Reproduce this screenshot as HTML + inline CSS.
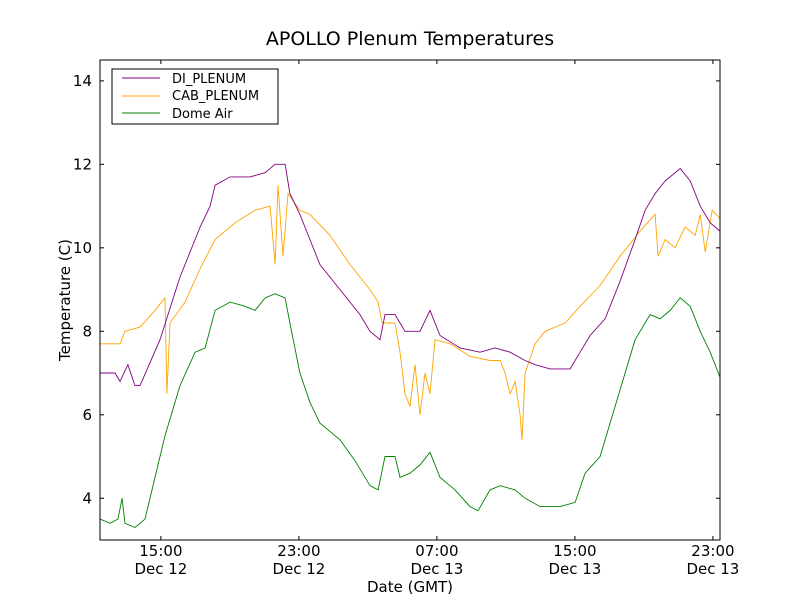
<!DOCTYPE html>
<html><head><meta charset="utf-8"><style>
body{margin:0;background:#fff;}
svg text{font-family:"DejaVu Sans","Liberation Sans",sans-serif;fill:#000;}
</style></head><body>
<svg id="chart" width="800" height="600">
<rect width="800" height="600" fill="#fff"/>
<text x="410" y="45" font-size="19" text-anchor="middle">APOLLO Plenum Temperatures</text>
<g id="series"></g>
<rect x="100" y="60" width="620" height="480" fill="none" stroke="#000" stroke-width="1"/>
<g id="axes"></g>
<text x="410" y="592" font-size="15" text-anchor="middle">Date (GMT)</text>
<text transform="translate(70,300) rotate(-90)" font-size="15" text-anchor="middle">Temperature (C)</text>
<g>
<rect x="112" y="69" width="166" height="55" fill="#fff" stroke="#000"/>
<line x1="122" y1="78" x2="160" y2="78" stroke="purple"/>
<text x="172" y="83" font-size="13">DI_PLENUM</text>
<line x1="122" y1="96" x2="160" y2="96" stroke="orange"/>
<text x="172" y="100" font-size="13">CAB_PLENUM</text>
<line x1="122" y1="113" x2="160" y2="113" stroke="green"/>
<text x="172" y="118" font-size="13">Dome Air</text>
</g>
</svg>
<script>
const yTicks=[4,6,8,10,12,14];
const xTickHours=[15,23,31,39,47];
const xTickTimes=["15:00","23:00","07:00","15:00","23:00"];
const xTickDates=["Dec 12","Dec 12","Dec 13","Dec 13","Dec 13"];
const diT=[11.47,12.34,12.63,13.09,13.5,13.79,14.95,16.11,17.27,17.85,18.14,19.01,20.17,21.04,21.62,22.2,22.48,23.06,23.64,24.22,25.38,26.54,27.12,27.7,27.99,28.57,29.15,30.02,30.6,31.18,32.34,33.5,34.37,35.24,36.11,36.69,37.56,38.72,39.3,39.88,40.75,41.62,42.49,43.07,43.65,44.23,45.1,45.68,46.26,46.84,47.41];
const diV=[7.0,7.0,6.8,7.2,6.7,6.7,7.8,9.3,10.5,11.0,11.5,11.7,11.7,11.8,12.0,12.0,11.3,10.8,10.2,9.6,9.0,8.4,8.0,7.8,8.4,8.4,8.0,8.0,8.5,7.9,7.6,7.5,7.6,7.5,7.3,7.2,7.1,7.1,7.5,7.9,8.3,9.2,10.2,10.9,11.3,11.6,11.9,11.6,11.0,10.6,10.4];
const cabT=[11.47,12.63,12.92,13.79,14.66,15.24,15.35,15.53,16.4,17.27,18.14,19.3,20.46,21.33,21.62,21.79,22.08,22.37,23.06,23.64,24.8,25.96,27.12,27.59,27.82,28.57,28.86,29.15,29.44,29.73,30.02,30.31,30.6,30.89,31.76,32.92,34.08,34.66,34.95,35.24,35.53,35.82,35.93,36.11,36.69,37.27,38.43,39.3,40.46,41.62,42.78,43.65,43.82,44.23,44.81,45.39,45.97,46.26,46.55,46.96,47.41];
const cabV=[7.7,7.7,8.0,8.1,8.5,8.8,6.5,8.2,8.7,9.5,10.2,10.6,10.9,11.0,9.6,11.5,9.8,11.3,10.9,10.8,10.3,9.6,9.0,8.7,8.2,8.2,7.5,6.5,6.2,7.2,6.0,7.0,6.5,7.8,7.7,7.4,7.3,7.3,7.0,6.5,6.8,6.0,5.4,7.0,7.7,8.0,8.2,8.6,9.1,9.8,10.4,10.8,9.8,10.2,10.0,10.5,10.3,10.8,9.9,10.9,10.7];
const domeT=[11.47,12.05,12.51,12.75,12.92,13.5,14.08,14.66,15.24,16.11,16.98,17.56,18.14,19.01,19.88,20.46,21.04,21.62,22.2,22.48,23.06,23.64,24.22,25.38,26.25,27.12,27.59,27.99,28.57,28.86,29.44,30.02,30.6,31.18,32.05,32.92,33.38,34.08,34.66,35.53,36.11,36.98,38.14,39.01,39.59,40.46,41.04,41.91,42.49,43.36,43.94,44.52,45.1,45.68,46.26,46.84,47.41];
const domeV=[3.5,3.4,3.5,4.0,3.4,3.3,3.5,4.5,5.5,6.7,7.5,7.6,8.5,8.7,8.6,8.5,8.8,8.9,8.8,8.2,7.0,6.3,5.8,5.4,4.9,4.3,4.2,5.0,5.0,4.5,4.6,4.8,5.1,4.5,4.2,3.8,3.7,4.2,4.3,4.2,4.0,3.8,3.8,3.9,4.6,5.0,5.8,7.0,7.8,8.4,8.3,8.5,8.8,8.6,8.0,7.5,6.9];

const X0=100,X1=720,Y0=60,Y1=540,XMIN=11.47,XMAX=47.41,YMIN=3,YMAX=14.5;
function xs(h){return X0+(h-XMIN)/(XMAX-XMIN)*(X1-X0);}
function ys(v){return Y1-(v-YMIN)/(YMAX-YMIN)*(Y1-Y0);}
const NS="http://www.w3.org/2000/svg";
const sg=document.getElementById('series'), ag=document.getElementById('axes');
function line(ts,vs,color,name){
  const p=document.createElementNS(NS,'polyline');
  p.setAttribute('points',ts.map((t,i)=>xs(t).toFixed(1)+','+ys(vs[i]).toFixed(1)).join(' '));
  p.setAttribute('fill','none');p.setAttribute('stroke',color);p.setAttribute('stroke-width','0.9');
  
  
  sg.appendChild(p);
}
line(domeT,domeV,'green','dome-air-line');
line(cabT,cabV,'orange','cab-plenum-line');
line(diT,diV,'purple','di-plenum-line');
function mk(tag,attrs,text){const e=document.createElementNS(NS,tag);for(const k in attrs)e.setAttribute(k,attrs[k]);if(text)e.textContent=text;ag.appendChild(e);return e;}
yTicks.forEach(v=>{
  const y=ys(v);
  const a=mk('line',{x1:X0,x2:X0+4,y1:y,y2:y,stroke:'#000'});
  
  
  const b=mk('line',{x1:X1-4,x2:X1,y1:y,y2:y,stroke:'#000'});
  
  
  const t=mk('text',{x:X0-8,y:y+5,'font-size':15,'text-anchor':'end'},String(v));
  
  
});
xTickHours.forEach((h,i)=>{
  const x=xs(h);
  const a=mk('line',{x1:x,x2:x,y1:Y1,y2:Y1-4,stroke:'#000'});
  
  
  const b=mk('line',{x1:x,x2:x,y1:Y0,y2:Y0+4,stroke:'#000'});
  
  
  const t=mk('text',{x:x,y:556,'font-size':15,'text-anchor':'middle'},xTickTimes[i]);
  
  
  const d=mk('text',{x:x,y:574,'font-size':15,'text-anchor':'middle'},xTickDates[i]);
  
  
});
</script>
</body></html>
